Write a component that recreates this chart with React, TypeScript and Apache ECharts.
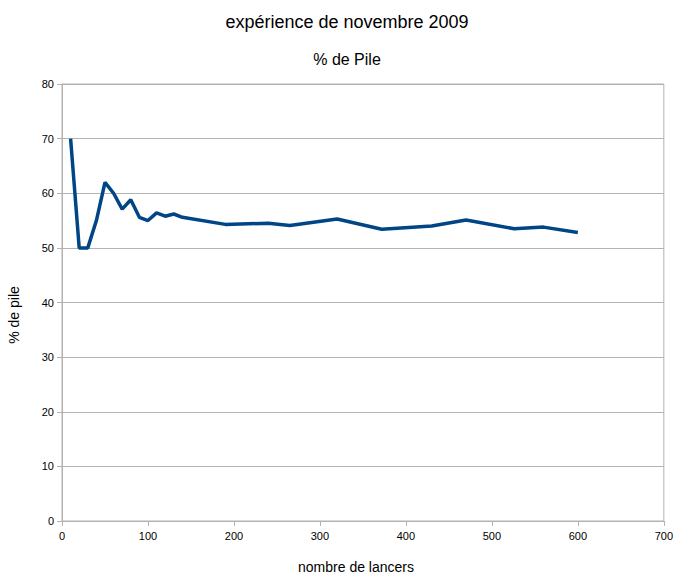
import React, { useEffect, useRef } from "react";
import * as echarts from "echarts";

const titleText = "expérience de novembre 2009";
const subtitleText = "% de Pile";
const xName = "nombre de lancers";
const yName = "% de pile";

const lancers = [10, 20, 30, 40, 50, 60, 70, 80, 90, 100, 110, 120, 130, 140, 190, 240, 265, 320, 372, 430, 470, 526, 560, 600];
const pctPile = [70, 50, 50, 55, 62, 60, 57.1, 58.8, 55.6, 55, 56.4, 55.8, 56.2, 55.6, 54.3, 54.5, 54.1, 55.3, 53.4, 54.0, 55.1, 53.5, 53.8, 52.8];

export default function App() {
  const ref = useRef<HTMLDivElement>(null);
  useEffect(() => {
    if (!ref.current) return;
    const chart = echarts.init(ref.current, undefined, { renderer: "svg" });
    const font = "Liberation Sans, Arial, sans-serif";
    chart.setOption({
      animation: false,
      backgroundColor: "#ffffff",
      title: [
        {
          text: titleText,
          left: 342,
          top: 8,
          textAlign: "center",
          textStyle: { fontFamily: font, fontSize: 18, fontWeight: "normal", color: "#000" },
        },
        {
          text: subtitleText,
          left: 342,
          top: 46,
          textAlign: "center",
          textStyle: { fontFamily: font, fontSize: 16, fontWeight: "normal", color: "#000" },
        },
      ],
      grid: {
        left: 62,
        right: 9,
        top: 84,
        bottom: 56,
        show: true,
        borderColor: "#b3b3b3",
        borderWidth: 1,
      },
      xAxis: {
        type: "value",
        min: 0,
        max: 700,
        interval: 100,
        axisLine: { show: true, lineStyle: { color: "#b3b3b3" } },
        axisTick: { show: true, length: 5, lineStyle: { color: "#b3b3b3" } },
        splitLine: { show: false },
        axisLabel: { fontFamily: font, fontSize: 11, color: "#000", margin: 9 },
      },
      yAxis: {
        type: "value",
        min: 0,
        max: 80,
        interval: 10,
        axisLine: { show: true, lineStyle: { color: "#b3b3b3" } },
        axisTick: { show: true, length: 5, lineStyle: { color: "#b3b3b3" } },
        splitLine: { show: true, lineStyle: { color: "#b3b3b3", width: 1 } },
        axisLabel: { fontFamily: font, fontSize: 11, color: "#000", margin: 8 },
      },
      graphic: [
        {
          type: "text",
          x: 356,
          y: 567,
          style: { text: xName, fontFamily: font, fontSize: 14, fill: "#000", textAlign: "center", textVerticalAlign: "middle" },
        },
        {
          type: "text",
          x: 14,
          y: 315,
          rotation: Math.PI / 2,
          style: { text: yName, fontFamily: font, fontSize: 14, fill: "#000", textAlign: "center", textVerticalAlign: "middle" },
        },
      ],
      series: [
        {
          type: "line",
          data: lancers.map((x, i) => [x, pctPile[i]]),
          showSymbol: false,
          symbol: "none",
          lineStyle: { color: "#004586", width: 3.5 },
          itemStyle: { color: "#004586" },
        },
      ],
    });
    return () => chart.dispose();
  }, []);
  return <div ref={ref} style={{ position: "absolute", left: 0, top: 0, width: 676, height: 577 }} />;
}
